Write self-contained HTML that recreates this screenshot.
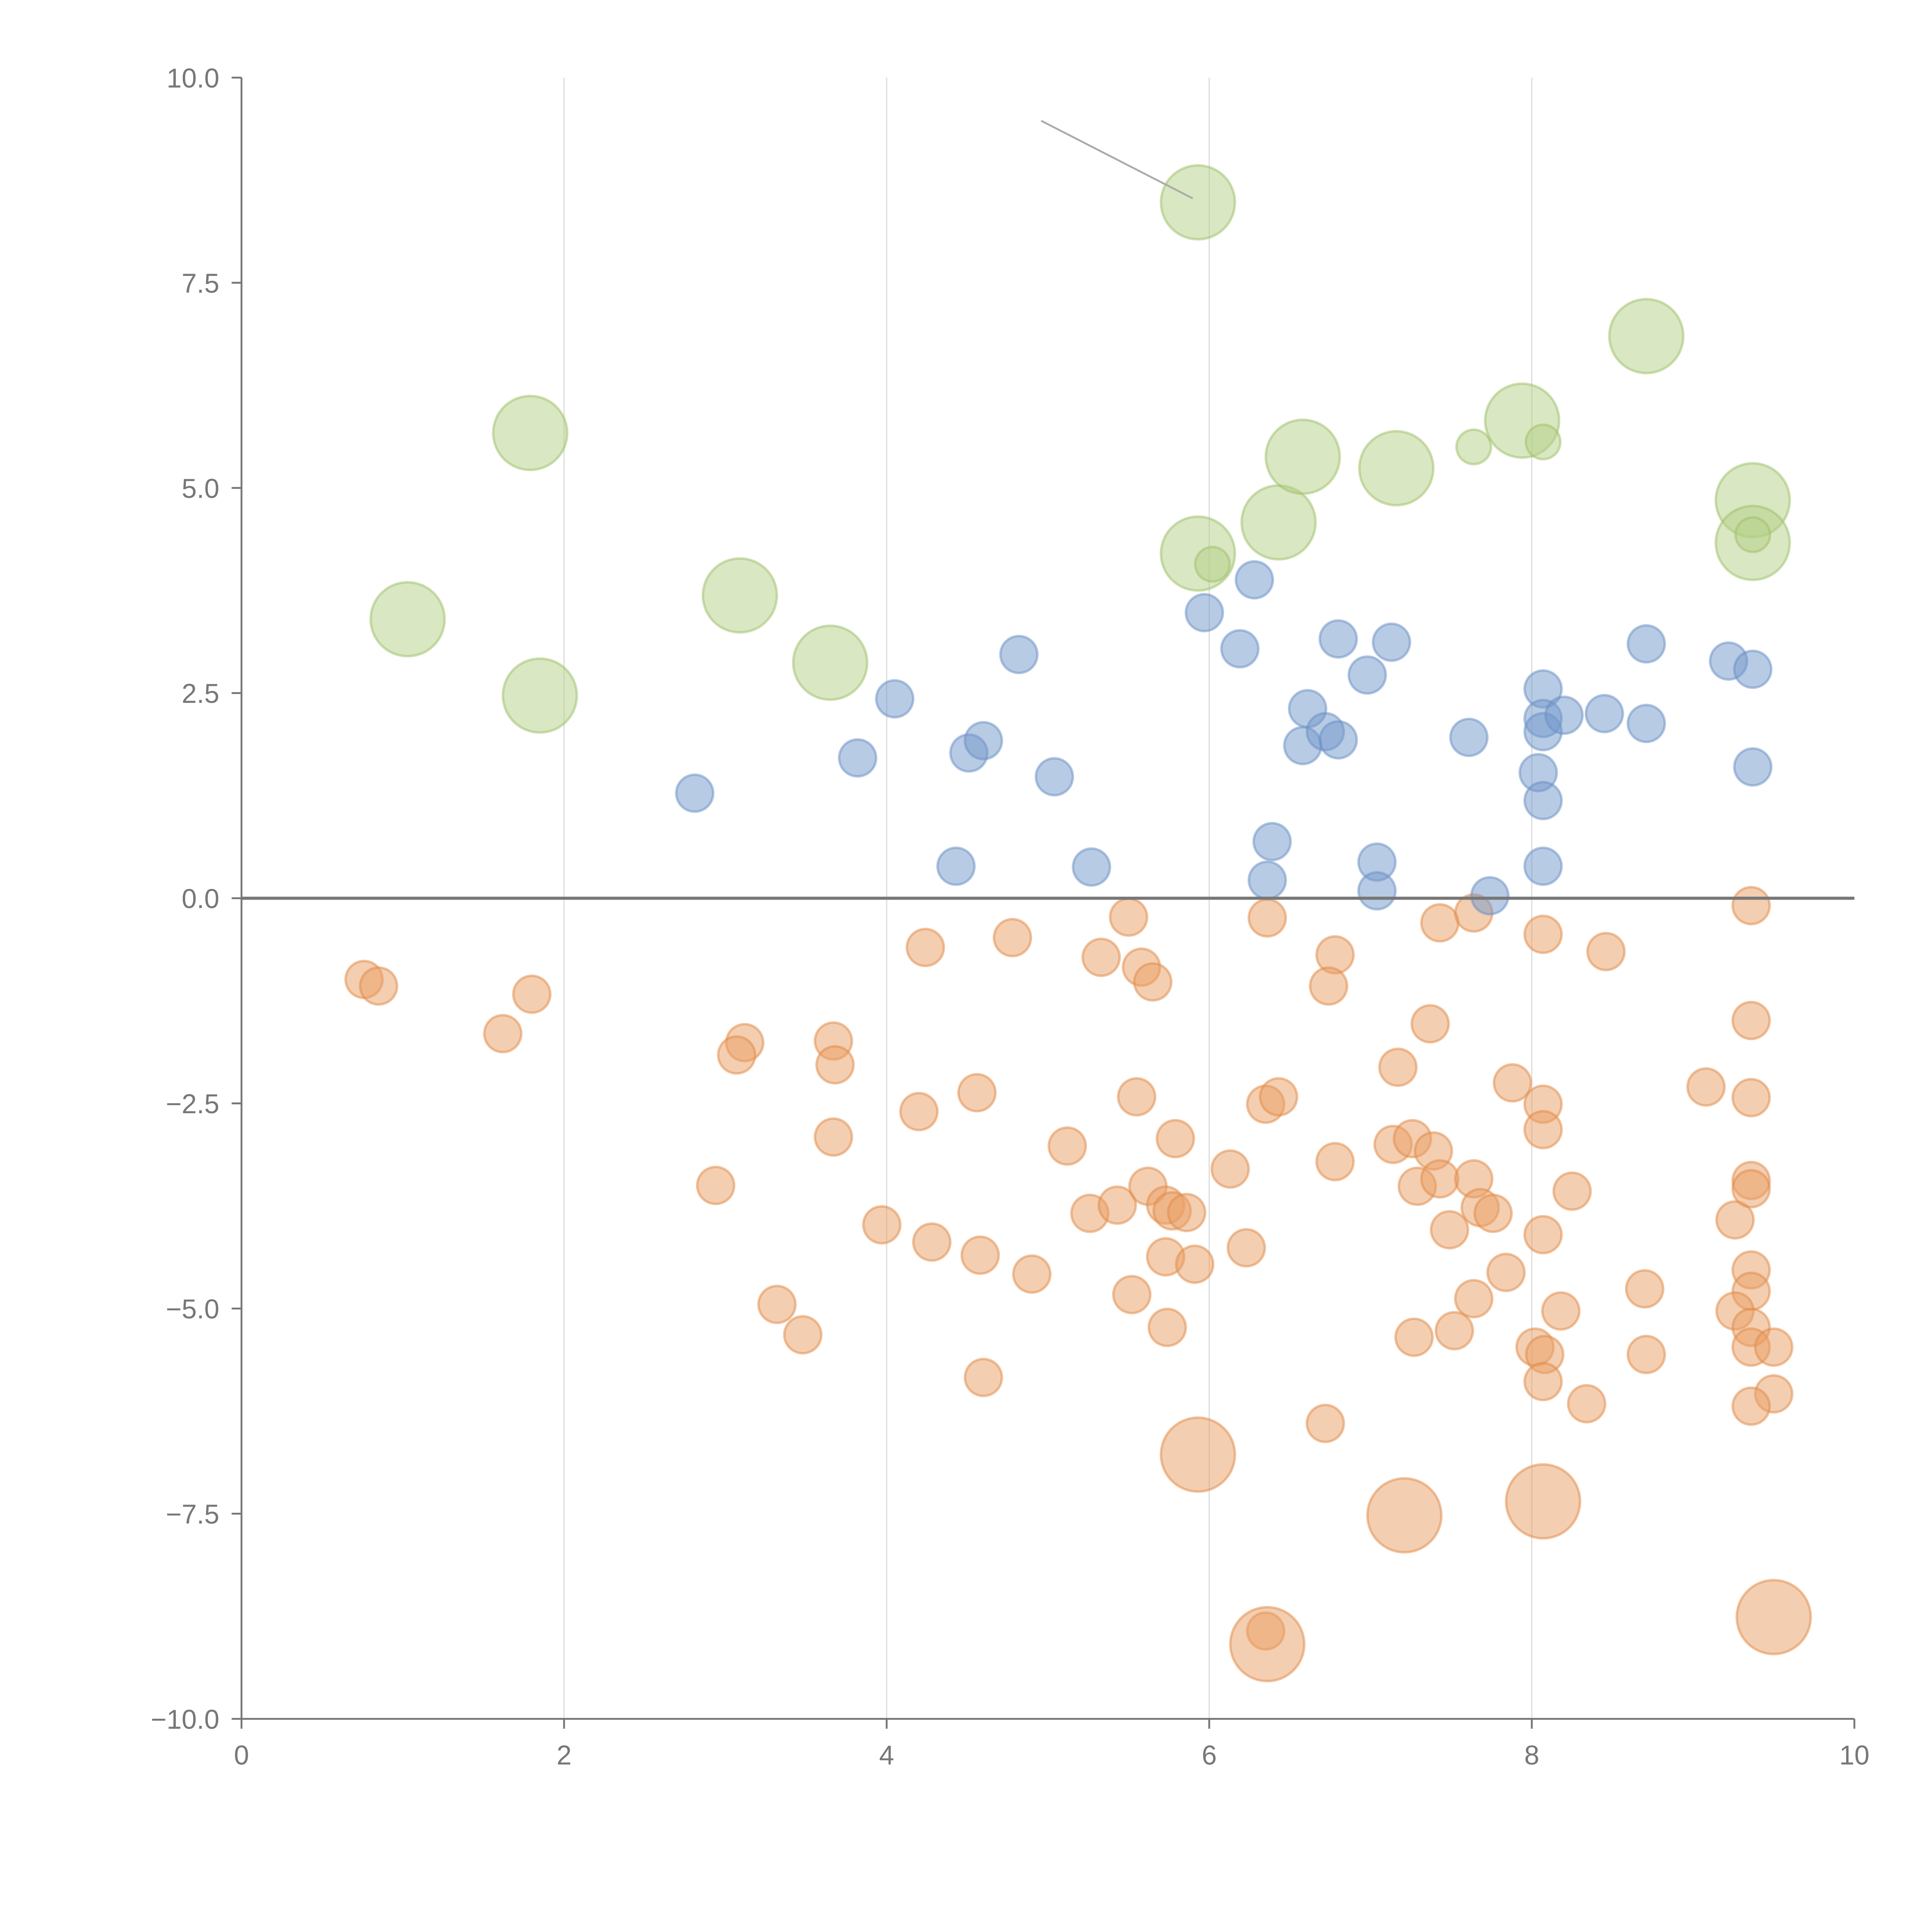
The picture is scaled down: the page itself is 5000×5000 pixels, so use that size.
<!DOCTYPE html>
<html><head><meta charset="utf-8"><style>
html,body{margin:0;padding:0;background:#fff}
svg{display:block}
text{font-family:"Liberation Sans",sans-serif;fill:#777;font-size:22px}
</style></head><body>
<svg id="chart" width="5000" height="5000" viewBox="0 0 1568 1568" xmlns="http://www.w3.org/2000/svg">
<g id="grid"></g>
<g id="marks"></g>
<g id="axes"></g>
</svg>
<script>
const xTicks=[0,2,4,6,8,10];
const yTicks=[-10,-7.5,-5,-2.5,0,2.5,5,7.5,10];
const yTickLabels=["\u221210.0","\u22127.5","\u22125.0","\u22122.5","0.0","2.5","5.0","7.5","10.0"];
const greenX=[1.03,1.79,1.85,3.09,3.65,5.93,5.93,6.43,6.58,7.16,7.94,8.71,9.37,9.37,7.64,8.07,6.02,9.37];
const greenY=[3.4,5.67,2.47,3.69,2.87,8.48,4.2,4.58,5.38,5.24,5.82,6.85,4.85,4.33,5.5,5.56,4.07,4.43];
const greenSize=[2,2,2,2,2,2,2,2,2,2,2,2,2,2,1,1,1,1];
const blueX=[2.81,3.82,4.05,4.43,4.51,4.6,4.82,5.04,5.27,5.97,6.19,6.28,6.36,6.39,6.58,6.61,6.72,6.8,6.8,6.98,7.04,7.04,7.13,7.61,7.74,8.04,8.07,8.07,8.07,8.07,8.07,8.2,8.45,8.71,8.71,9.22,9.37,9.37];
const blueY=[1.28,1.71,2.43,0.39,1.77,1.92,2.97,1.48,0.38,3.48,3.04,3.88,0.22,0.69,1.86,2.31,2.03,1.93,3.16,2.72,0.44,0.09,3.12,1.96,0.03,1.53,1.19,2.55,2.19,2.03,0.39,2.23,2.25,3.1,2.13,2.89,2.79,1.6];
const orangeX=[0.76,0.85,1.8,1.62,3.12,3.07,3.67,3.68,3.67,2.94,3.32,3.48,4.24,4.78,4.56,4.2,3.97,4.28,4.58,4.9,4.6,5.12,5.26,5.33,5.5,5.43,5.55,5.58,5.65,5.62,5.73,5.79,5.77,5.86,5.73,5.52,5.74,5.91,6.13,6.23,6.36,6.35,6.43,6.78,6.74,6.78,6.72,6.35,7.43,7.64,7.37,7.17,7.14,7.26,7.39,7.29,7.43,7.64,7.68,7.76,7.49,7.64,7.52,7.27,7.88,7.84,8.07,8.07,8.07,8.07,8.18,8.02,8.08,8.07,8.34,8.25,8.46,8.7,8.71,9.08,9.26,9.36,9.36,9.36,9.36,9.36,9.36,9.36,9.26,9.36,9.36,9.5,9.5,9.36,5.93,7.21,8.07,6.36,9.5];
const orangeY=[-0.99,-1.07,-1.17,-1.65,-1.76,-1.91,-1.74,-2.03,-2.91,-3.5,-4.95,-5.32,-0.6,-0.48,-2.37,-2.6,-3.98,-4.19,-4.35,-4.58,-5.84,-3.02,-3.84,-0.72,-0.23,-3.74,-2.42,-0.84,-1.02,-3.51,-3.74,-2.93,-3.81,-3.83,-4.37,-4.83,-5.23,-4.46,-3.3,-4.26,-0.24,-2.51,-2.42,-0.69,-1.07,-3.21,-6.4,-8.93,-0.3,-0.18,-1.53,-2.06,-3.0,-2.93,-3.08,-3.51,-3.42,-3.42,-3.77,-3.84,-4.04,-4.88,-5.27,-5.35,-2.25,-4.56,-0.44,-2.51,-2.82,-4.1,-5.03,-5.47,-5.56,-5.89,-6.16,-3.57,-0.65,-4.76,-5.56,-2.3,-3.92,-0.09,-1.49,-2.43,-3.44,-3.54,-4.53,-4.79,-5.03,-5.23,-5.47,-5.47,-6.04,-6.19,-6.78,-7.52,-7.35,-9.09,-8.76];
const orangeSize=[1,1,1,1,1,1,1,1,1,1,1,1,1,1,1,1,1,1,1,1,1,1,1,1,1,1,1,1,1,1,1,1,1,1,1,1,1,1,1,1,1,1,1,1,1,1,1,1,1,1,1,1,1,1,1,1,1,1,1,1,1,1,1,1,1,1,1,1,1,1,1,1,1,1,1,1,1,1,1,1,1,1,1,1,1,1,1,1,1,1,1,1,1,1,2,2,2,2,2];

const X0=196,X1=1505,Y0=1395,Y1=63;
const sx=v=>X0+(v-0)/(10-0)*(X1-X0);
const sy=v=>Y0-(v+10)/20*(Y0-Y1);
const NS="http://www.w3.org/2000/svg";
function mk(tag,attrs,parent){const e=document.createElementNS(NS,tag);for(const k in attrs)e.setAttribute(k,attrs[k]);parent.appendChild(e);return e;}
const grid=document.getElementById('grid'),marks=document.getElementById('marks'),axes=document.getElementById('axes');

xTicks.forEach(t=>{if(t>0&&t<10){const l=mk('line',{x1:sx(t),x2:sx(t),y1:Y1,y2:Y0,stroke:'#ddd','stroke-width':1},grid);

}});

function series(xs,ys,sz,fill,stroke,name,rSmall,rBig){
  xs.forEach((x,i)=>{const c=mk('circle',{cx:sx(x),cy:sy(ys[i]),r:sz[i]===2?rBig:rSmall,fill:fill,'fill-opacity':0.5,stroke:stroke,'stroke-opacity':0.5,'stroke-width':2},marks);
  
  });
}
series(orangeX,orangeY,orangeSize,'#e99d63','#df8a45','orange-bubble',15,30);
series(blueX,blueY,blueX.map(()=>1),'#7198cc','#6a8fc4','blue-bubble',15,30);
series(greenX,greenY,greenSize,'#b3cf86','#9dbf68','green-bubble',14,30);

const ann=mk('line',{x1:845,y1:98,x2:968,y2:161,stroke:'#aaa','stroke-width':1.5},marks);



const zl=mk('line',{x1:X0,x2:X1,y1:sy(0),y2:sy(0),stroke:'#777','stroke-width':2.5},axes);


const xa=mk('line',{x1:X0,x2:X1,y1:Y0,y2:Y0,stroke:'#777','stroke-width':1.5},axes);


const ya=mk('line',{x1:X0,x2:X0,y1:Y1,y2:Y0,stroke:'#777','stroke-width':1.5},axes);


xTicks.forEach(t=>{
  const tk=mk('line',{x1:sx(t),x2:sx(t),y1:Y0,y2:Y0+8,stroke:'#777','stroke-width':1.5},axes);
  
  
  const tx=mk('text',{x:sx(t),y:Y0+37,'text-anchor':'middle'},axes);tx.textContent=String(t);
  
  
});
yTicks.forEach((t,i)=>{
  const tk=mk('line',{x1:X0-8,x2:X0,y1:sy(t),y2:sy(t),stroke:'#777','stroke-width':1.5},axes);
  
  
  const tx=mk('text',{x:X0-18,y:sy(t)+8,'text-anchor':'end'},axes);tx.textContent=yTickLabels[i];
  
  
});
</script>
</body></html>
